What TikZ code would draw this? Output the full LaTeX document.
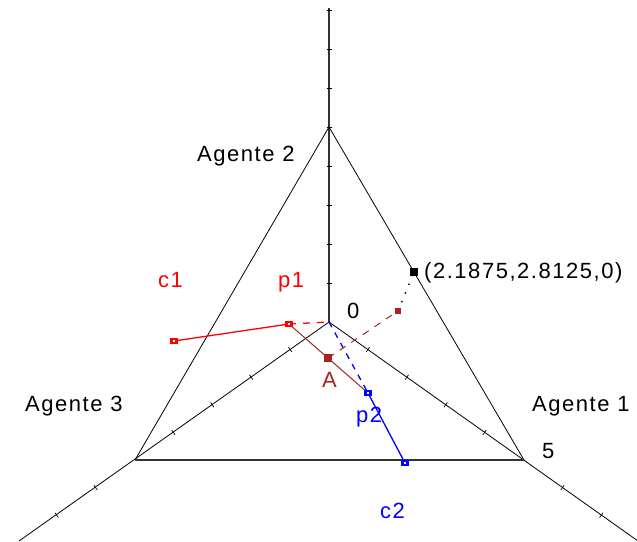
\documentclass[tikz,border=0pt]{standalone}
\usepackage{fontspec}
\newfontfamily\lab{Liberation Sans}[LetterSpace=7]
\definecolor{brn}{RGB}{165,35,35}
\begin{document}
\begin{tikzpicture}[x=1pt,y=-1pt,
  thinline/.style={line width=0.8pt, black},
  thickline/.style={line width=1.6pt, black!80},
  tickmark/.style={line width=0.7pt, black},
  lbl/.style={font=\lab\fontsize{22}{25}\selectfont, inner sep=0pt, anchor=base west},
  hollowmk/.style={rectangle, inner sep=0pt, minimum width=5pt, minimum height=4pt, line width=2.8pt, fill=white},
  solidmk/.style={rectangle, inner sep=0pt, minimum size=8.5pt},
  redline/.style={red, line width=1.3pt},
  blueline/.style={blue, line width=1.3pt},
  brnline/.style={brn, line width=1pt}]
\useasboundingbox (0,0) rectangle (637,541);
% geometry
\coordinate (O) at (329,322);
\coordinate (T2) at (329,8);
\coordinate (V2) at (329,127);
\coordinate (V1) at (524,460);
\coordinate (V3) at (135,460);
\coordinate (E1) at (638,541);
\coordinate (E3) at (19,541);
% axes
\draw[thickline] (O) -- (T2);
\draw[thinline] (O) -- (E1);
\draw[thinline] (O) -- (E3);
% triangle
\draw[thinline] (V3) -- (V2) -- (V1);
\draw[thickline] (V3) -- (V1);
% ticks
\foreach \k in {1,...,8}{
  \draw[tickmark] ({329-2.5},{322-39*\k}) -- ({329+2.5},{322-39*\k});
}
\foreach \k in {1,2,3,4,6,7}{
  \draw[tickmark] ({329+38.9*\k-1.7},{322+27.6*\k+2.4}) -- ({329+38.9*\k+1.7},{322+27.6*\k-2.4});
  \draw[tickmark] ({329-38.9*\k+1.7},{322+27.6*\k+2.4}) -- ({329-38.9*\k-1.7},{322+27.6*\k-2.4});
}
% points
\coordinate (p1c) at (289,324);
\coordinate (c1c) at (174,341);
\coordinate (p2c) at (368,393);
\coordinate (c2c) at (405,463);
\coordinate (Ac) at (328,358);
\coordinate (Bc) at (398,311);
\coordinate (Pc) at (414,272);
% connectors
\draw[redline] (c1c) -- (p1c);
\draw[redline, dash pattern=on 7pt off 7pt] (p1c) -- (O);
\draw[blueline, dash pattern=on 6pt off 6pt] (O) -- (p2c);
\draw[blueline] (p2c) -- (c2c);
\draw[brnline] (p1c) -- (p2c);
\draw[brnline, dash pattern=on 7pt off 7pt] (Ac) -- (Bc);
\draw[black, line width=1.4pt, dash pattern=on 1.4pt off 8pt] (Bc) -- (Pc);
% markers
\node[hollowmk, draw=red] (c1) at (c1c) {};
\node[hollowmk, draw=red] (p1) at (p1c) {};
\node[hollowmk, draw=blue] (p2) at (p2c) {};
\node[hollowmk, draw=blue] (c2) at (c2c) {};
\node[hollowmk, draw=brn, minimum width=3.5pt, minimum height=3pt, line width=2.4pt] (B) at (Bc) {};
\node[solidmk, fill=brn] (A) at (Ac) {};
\node[solidmk, fill=black, minimum size=7.5pt] (P) at (Pc) {};
% labels
\node[lbl] (l2) at (197,161) {Agente 2};
\node[lbl] (l3) at (25,411) {Agente 3};
\node[lbl] (l1) at (532,411) {Agente 1};
\node[lbl] (l5) at (542,458) {5};
\node[lbl] (l0) at (347,318) {0};
\node[lbl, text=brn] (lA) at (322,387) {A};
\node[lbl, text=red] (lc1) at (158,287) {c1};
\node[lbl, text=red] (lp1) at (278,287) {p1};
\node[lbl, text=blue] (lp2) at (356,422) {p2};
\node[lbl, text=blue] (lc2) at (380,518) {c2};
\node[lbl] (lP) at (424,278) {(2.1875,2.8125,0)};
\end{tikzpicture}
\end{document}
